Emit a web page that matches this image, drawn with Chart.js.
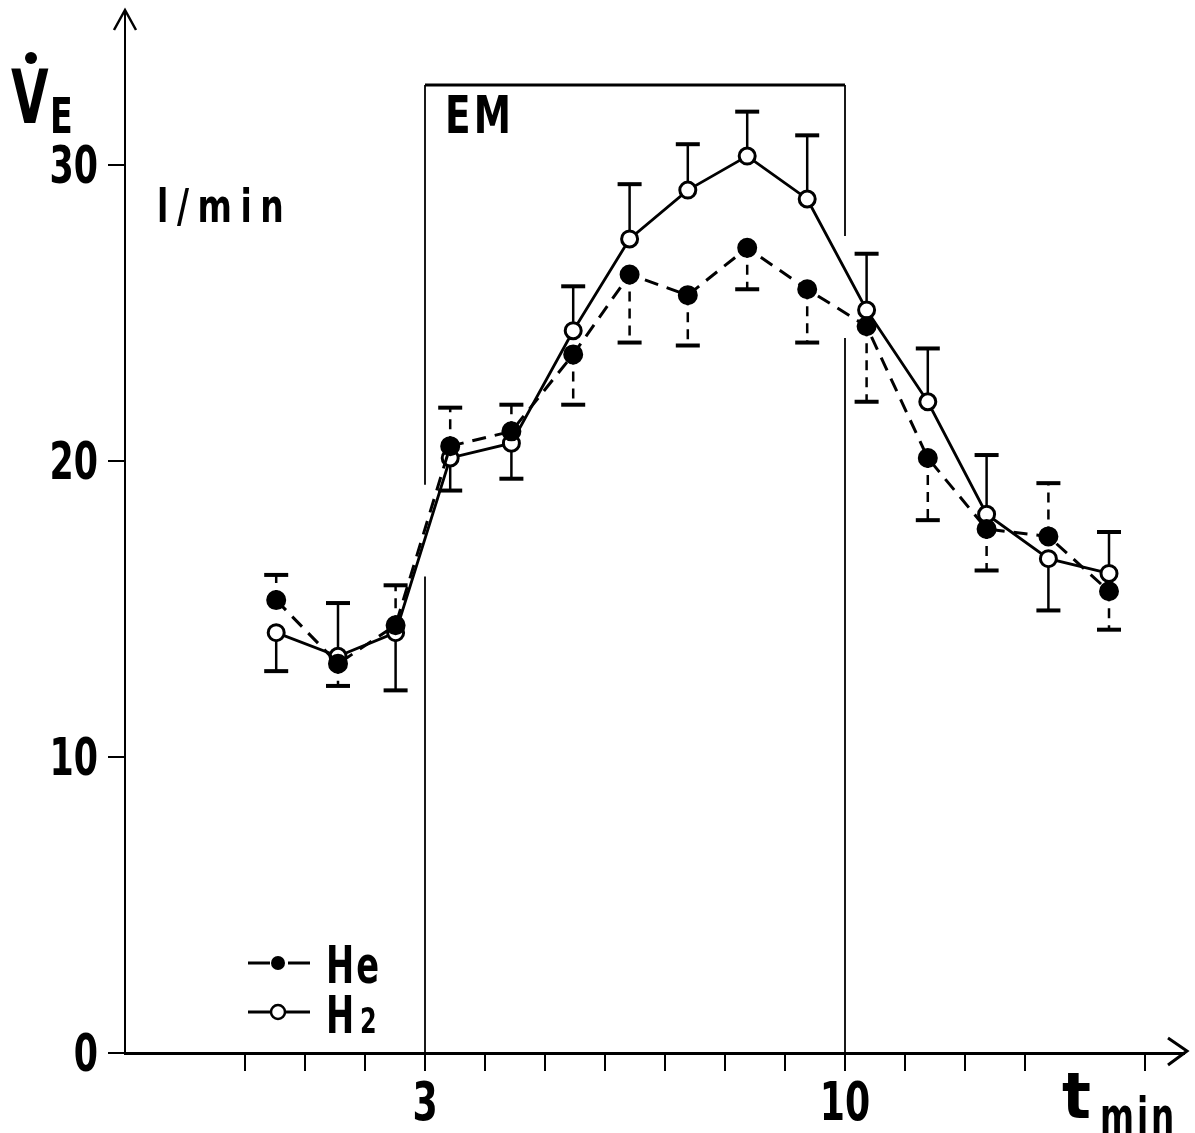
<!DOCTYPE html>
<html>
<head>
<meta charset="utf-8">
<script src="https://cdn.jsdelivr.net/npm/chart.js@4/dist/chart.umd.min.js"></script>
<style>
  html, body { margin: 0; padding: 0; background: #fff; }
  #wrap { width: 1195px; height: 1133px; }
</style>
</head>
<body>
<div id="wrap"><canvas id="ve-chart" width="1195" height="1133"></canvas></div>
<script>
// ===== data =====
const tMin   = [0.52, 1.55, 2.51, 3.42, 4.44, 5.47, 6.41, 7.38, 8.37, 9.37, 10.36, 11.38, 12.36, 13.39, 14.4]
const heVE   = [15.3, 13.15, 14.45, 20.5, 21.0, 23.6, 26.3, 25.6, 27.2, 25.8, 24.55, 20.1, 17.7, 17.45, 15.6]
const h2VE   = [14.2, 13.4, 14.2, 20.1, 20.6, 24.4, 27.5, 29.15, 30.3, 28.85, 25.1, 22.0, 18.2, 16.7, 16.2]
// signed error bars: + drawn upward, - drawn downward
const heErr  = [0.85, -0.75, 1.35, 1.3, 0.9, -1.7, -2.3, -1.7, -1.4, -1.8, -2.55, -2.1, -1.4, 1.8, -1.3]
const h2Err  = [-1.3, 1.8, -1.95, -1.1, -1.2, 1.5, 1.85, 1.55, 1.5, 2.15, 1.9, 1.8, 2.0, -1.75, 1.4]
const xTicks = [0, 1, 2, 3, 4, 5, 6, 7, 8, 9, 10, 11, 12, 13, 15]
const xLabelled = [3, 10]
const yTicks = [0, 10, 20, 30]

// EM period (exercise) box
const emStart = 3
const emEnd = 10
const emTop = 32.7

const FONT = "'DejaVu Sans Condensed', 'DejaVu Sans', sans-serif"

function toPoints(xs, ys) {
  return xs.map((x, i) => ({ x: x, y: ys[i] }))
}

// condensed bold text, the figure uses a narrow grotesque
function narrowText(ctx, text, x, y, size, sx, align, spacing) {
  ctx.save()
  ctx.translate(x, y)
  ctx.scale(sx, 1)
  ctx.font = 'bold ' + size + 'px ' + FONT
  ctx.textAlign = align || 'left'
  ctx.textBaseline = 'alphabetic'
  ctx.letterSpacing = (spacing || 0) + 'px'
  ctx.fillText(text, 0, 0)
  ctx.restore()
}

function drawErrBars(ctx, x, y, vals, errs, dashed) {
  ctx.save()
  ctx.strokeStyle = '#000'
  vals.forEach((v, i) => {
    const px = x.getPixelForValue(tMin[i])
    const y0 = y.getPixelForValue(v)
    const y1 = y.getPixelForValue(v + errs[i])
    ctx.lineWidth = 2.5
    ctx.setLineDash(dashed ? [10, 7] : [])
    ctx.beginPath()
    ctx.moveTo(px, y0)
    ctx.lineTo(px, y1)
    ctx.stroke()
    ctx.setLineDash([])
    ctx.lineWidth = 4
    ctx.beginPath()
    ctx.moveTo(px - 12, y1)
    ctx.lineTo(px + 12, y1)
    ctx.stroke()
  })
  ctx.restore()
}

function vLine(ctx, x, y, xv, from, to) {
  ctx.beginPath()
  ctx.moveTo(x.getPixelForValue(xv), y.getPixelForValue(from))
  ctx.lineTo(x.getPixelForValue(xv), y.getPixelForValue(to))
  ctx.stroke()
}

const figurePlugin = {
  id: 'figure',
  beforeDatasetsDraw(chart) {
    const { ctx, scales: { x, y } } = chart
    ctx.save()
    ctx.strokeStyle = '#000'
    // EM box
    ctx.lineWidth = 3
    ctx.beginPath()
    ctx.moveTo(x.getPixelForValue(emStart), y.getPixelForValue(emTop))
    ctx.lineTo(x.getPixelForValue(emEnd), y.getPixelForValue(emTop))
    ctx.stroke()
    ctx.lineWidth = 1.8
    vLine(ctx, x, y, emStart, emTop, 19.2)
    vLine(ctx, x, y, emStart, 16.1, 0)
    vLine(ctx, x, y, emEnd, emTop, 27.6)
    vLine(ctx, x, y, emEnd, 24.15, 0)
    ctx.restore()

    drawErrBars(ctx, x, y, heVE, heErr, true)
    drawErrBars(ctx, x, y, h2VE, h2Err, false)
  },
  afterDraw(chart) {
    const { ctx, chartArea: a, scales: { x, y } } = chart
    ctx.save()
    ctx.fillStyle = '#000'
    ctx.strokeStyle = '#000'

    // axis arrows
    ctx.lineWidth = 2.5
    ctx.beginPath()
    ctx.moveTo(a.left - 11, a.top + 19)
    ctx.lineTo(a.left, a.top - 1)
    ctx.lineTo(a.left + 11, a.top + 19)
    ctx.stroke()
    ctx.lineWidth = 3
    ctx.beginPath()
    ctx.moveTo(a.right - 16, a.bottom - 15)
    ctx.lineTo(a.right + 3, a.bottom - 2)
    ctx.lineTo(a.right - 16, a.bottom + 12)
    ctx.stroke()

    // tick labels, placed with the chart's own scales
    yTicks.forEach(v => {
      narrowText(ctx, String(v), a.left - 27, y.getPixelForValue(v) + 18, 51, 0.76, 'right')
    })
    xLabelled.forEach(v => {
      narrowText(ctx, String(v), x.getPixelForValue(v), a.bottom + 67, 53, 0.76, 'center')
    })

    // V-dot with subscript E
    narrowText(ctx, 'V', 11, 123, 75, 0.72)
    ctx.beginPath()
    ctx.arc(31, 58, 6, 0, Math.PI * 2)
    ctx.fill()
    narrowText(ctx, 'E', 50, 133, 50, 0.74)

    // unit
    narrowText(ctx, 'l/min', 157, 222, 47, 0.78, 'left', 11)

    // EM label
    narrowText(ctx, 'EM', 445, 133, 52, 0.8, 'left', 4)

    // x axis title
    narrowText(ctx, 't', 1062, 1118, 64, 1.05)
    narrowText(ctx, 'min', 1100, 1133, 49, 0.74, 'left', 4)

    // legend
    ctx.lineWidth = 3
    ctx.beginPath()
    ctx.moveTo(248, 963); ctx.lineTo(270, 963)
    ctx.moveTo(288, 963); ctx.lineTo(310, 963)
    ctx.stroke()
    ctx.beginPath()
    ctx.arc(278, 963, 7, 0, Math.PI * 2)
    ctx.fill()
    ctx.beginPath()
    ctx.moveTo(248, 1012); ctx.lineTo(310, 1012)
    ctx.stroke()
    ctx.beginPath()
    ctx.arc(278, 1012, 7, 0, Math.PI * 2)
    ctx.fillStyle = '#fff'
    ctx.fill()
    ctx.lineWidth = 2.5
    ctx.stroke()
    ctx.fillStyle = '#000'
    narrowText(ctx, 'He', 326, 983, 52, 0.72, 'left', 3)
    narrowText(ctx, 'H', 326, 1033, 52, 0.72)
    narrowText(ctx, '2', 360, 1033, 35, 0.76)
    ctx.restore()
  }
}

const chart = new Chart(document.getElementById('ve-chart'), {
  type: 'line',
  data: {
    datasets: [
      {
        label: 'He',
        data: toPoints(tMin, heVE),
        borderColor: '#000',
        borderWidth: 3,
        borderDash: [14, 9],
        pointRadius: 9,
        pointBorderWidth: 2,
        pointBackgroundColor: '#000',
        pointBorderColor: '#000',
        tension: 0,
        fill: false,
      },
      {
        label: 'H2',
        data: toPoints(tMin, h2VE),
        borderColor: '#000',
        borderWidth: 2.8,
        pointRadius: 8,
        pointBorderWidth: 3,
        pointBackgroundColor: '#fff',
        pointBorderColor: '#000',
        tension: 0,
        fill: false,
      },
    ]
  },
  options: {
    responsive: false,
    animation: false,
    layout: { padding: { top: 9, right: 9, left: 0, bottom: 0 } },
    plugins: { legend: { display: false }, tooltip: { enabled: false } },
    scales: {
      x: {
        type: 'linear',
        min: -2,
        max: 15.65,
        afterBuildTicks: s => { s.ticks = xTicks.map(v => ({ value: v })) },
        afterFit: s => { s.height = 80; s.paddingLeft = 0; s.paddingRight = 0 },
        grid: { drawOnChartArea: false, tickLength: 18, lineWidth: 2, tickColor: '#000' },
        border: { display: true, color: '#000', width: 3 },
        ticks: { display: false },
      },
      y: {
        min: 0,
        max: 35.2,
        afterBuildTicks: s => { s.ticks = yTicks.map(v => ({ value: v })) },
        afterFit: s => { s.width = 125; s.paddingTop = 0; s.paddingBottom = 0 },
        grid: { drawOnChartArea: false, tickLength: 17, lineWidth: 2, tickColor: '#000' },
        border: { display: true, color: '#000', width: 2 },
        ticks: { display: false },
      },
    },
  },
  plugins: [figurePlugin],
})
</script>
</body>
</html>
